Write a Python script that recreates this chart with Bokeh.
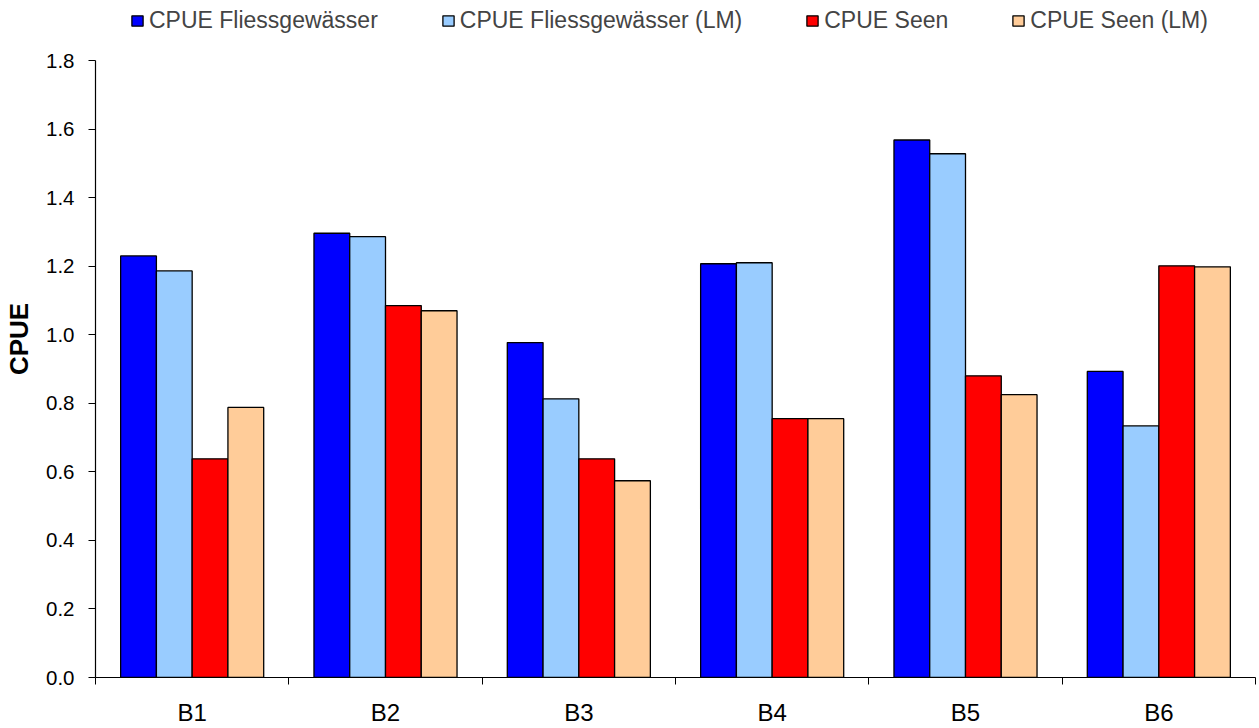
from bokeh.plotting import figure
from bokeh.models import Range1d, FixedTicker, Legend, LegendItem, ColumnDataSource
from bokeh.embed import file_html
from bokeh.resources import INLINE

categories = ["B1", "B2", "B3", "B4", "B5", "B6"]
series_names = ["CPUE Fliessgewässer", "CPUE Fliessgewässer (LM)", "CPUE Seen", "CPUE Seen (LM)"]
cpue_fliess = [1.230, 1.296, 0.977, 1.207, 1.568, 0.893]
cpue_fliess_lm = [1.186, 1.286, 0.813, 1.210, 1.528, 0.734]
cpue_seen = [0.638, 1.085, 0.638, 0.755, 0.880, 1.201]
cpue_seen_lm = [0.788, 1.070, 0.574, 0.755, 0.825, 1.198]
y_ticks = [0.0, 0.2, 0.4, 0.6, 0.8, 1.0, 1.2, 1.4, 1.6, 1.8]

colors = ["#0000FF", "#99CCFF", "#FF0000", "#FFCC99"]
series = [cpue_fliess, cpue_fliess_lm, cpue_seen, cpue_seen_lm]

FONT = "Liberation Sans"
bar_w = 0.185
y_max = 1.8
# frame spans the full height above the axis; leave room for the legend on top
y_top = y_max * 677 / 617

p = figure(width=1259, height=728, output_backend="svg", toolbar_location=None,
           title_location=None,
           x_range=Range1d(0, len(categories)), y_range=Range1d(0, y_top),
           min_border_left=95, min_border_right=4, min_border_top=0, min_border_bottom=51)
p.outline_line_color = None
p.xgrid.visible = False
p.ygrid.visible = False
p.background_fill_color = "white"
p.border_fill_color = "white"

items = []
for k, (vals, col, name) in enumerate(zip(series, colors, series_names)):
    xs = [i + 0.5 + (k - 1.5) * bar_w for i in range(len(categories))]
    src = ColumnDataSource(dict(x=xs, top=vals))
    r = p.vbar(x="x", top="top", width=bar_w, bottom=0, source=src,
               fill_color=col, line_color="black", line_width=1.3)
    items.append(LegendItem(label=name, renderers=[r]))

legend = Legend(items=items, orientation="horizontal", location=(35, 643),
                glyph_width=14, glyph_height=13, label_standoff=5, spacing=63,
                padding=0, margin=0, border_line_color=None, background_fill_alpha=0,
                label_text_font=FONT, label_text_font_size="23px", label_height=13)
p.add_layout(legend, "center")

xax = p.xaxis[0]
xax.ticker = FixedTicker(ticks=[i + 0.5 for i in range(len(categories))],
                         minor_ticks=list(range(len(categories) + 1)))
xax.major_label_overrides = {i + 0.5: c for i, c in enumerate(categories)}
xax.major_tick_out = 0
xax.major_tick_in = 0
xax.minor_tick_out = 7
xax.minor_tick_in = 0
xax.minor_tick_line_color = "black"
xax.axis_line_color = "black"
xax.axis_line_width = 1.2
xax.major_label_text_font = FONT
xax.major_label_text_font_size = "24px"
xax.major_label_text_color = "black"
xax.major_label_standoff = 14

yax = p.yaxis[0]
yax.bounds = (0, y_max)
yax.ticker = FixedTicker(ticks=y_ticks, minor_ticks=[])
yax.major_label_overrides = {t: f"{t:.1f}" for t in y_ticks}
yax.major_tick_out = 7
yax.major_tick_in = 0
yax.minor_tick_line_color = None
yax.axis_line_color = "black"
yax.axis_line_width = 1.2
yax.major_label_text_font = FONT
yax.major_label_text_font_size = "20.5px"
yax.major_label_text_color = "black"
yax.major_label_standoff = 14
yax.axis_label = "CPUE"
yax.axis_label_text_font = FONT
yax.axis_label_text_font_size = "26px"
yax.axis_label_text_font_style = "bold"
yax.axis_label_text_color = "black"
yax.axis_label_standoff = 9

open("out.html", "w").write(file_html(p, INLINE))
